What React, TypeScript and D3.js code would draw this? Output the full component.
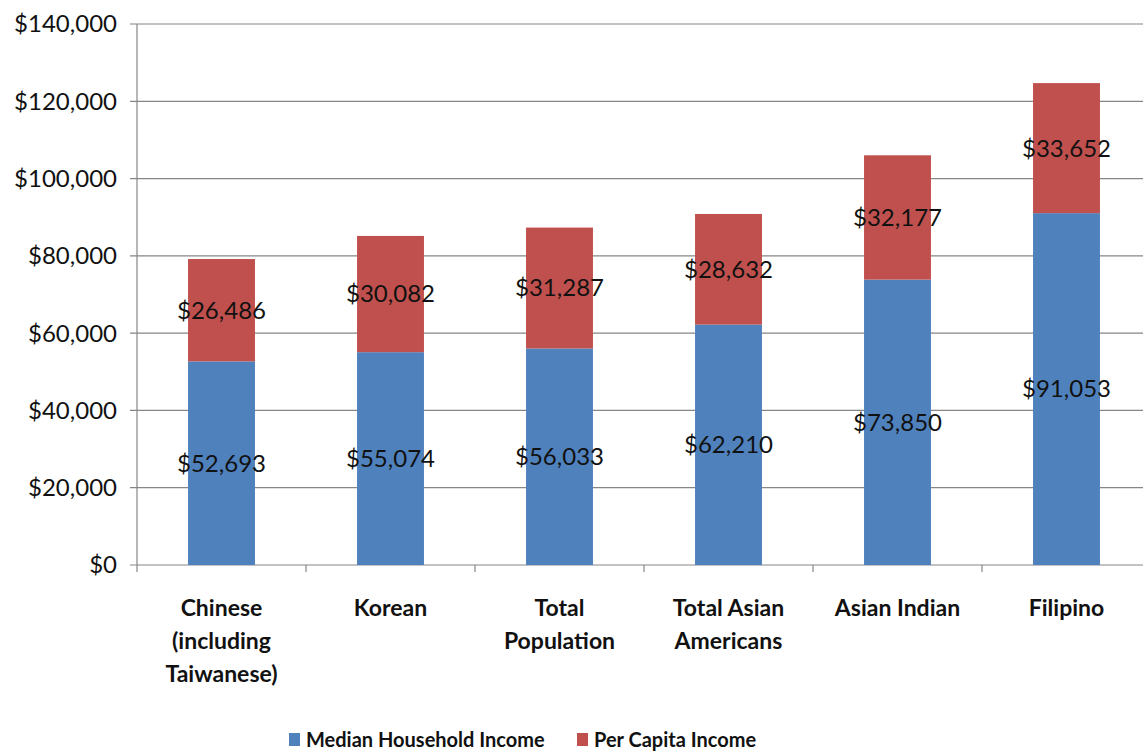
import React from "react";
import * as d3 from "d3";

const categories: string[][] = [
  ["Chinese", "(including", "Taiwanese)"],
  ["Korean"],
  ["Total", "Population"],
  ["Total Asian", "Americans"],
  ["Asian Indian"],
  ["Filipino"],
];
const medianHousehold = [52693, 55074, 56033, 62210, 73850, 91053];
const perCapita = [26486, 30082, 31287, 28632, 32177, 33652];
const yTicks = [0, 20000, 40000, 60000, 80000, 100000, 120000, 140000];
const seriesNames = ["Median Household Income", "Per Capita Income"];
const colors = ["#4F81BD", "#C0504D"];

const W = 1143;
const H = 752;
const left = 137;
const right = 1151;
const top = 24;
const bottom = 565;
const font = "Lato, 'Open Sans', sans-serif";

export default function App() {
  const idx = categories.map((_, i) => String(i));
  const x = d3.scaleBand().domain(idx).range([left, right]).paddingInner(0.604).paddingOuter(0.302);
  const step = (right - left) / categories.length;
  const y = d3.scaleLinear().domain([0, 140000]).range([bottom, top]);
  const fmt = (v: number) => "$" + d3.format(",")(v);
  const gray = "#868686";

  return (
    <svg width={W} height={H} style={{ position: "absolute", left: 0, top: 0, background: "#fff" }}>
      {yTicks.map((t) => (
        <g key={t}>
          <line x1={left - 7} x2={W} y1={y(t)} y2={y(t)} stroke={gray} strokeWidth={1.2} />
          <text x={117} y={y(t)} dy="0.35em" textAnchor="end" fontFamily={font} fontSize={24} fill="#111">
            {fmt(t)}
          </text>
        </g>
      ))}
      <line x1={left} x2={left} y1={top} y2={bottom} stroke={gray} strokeWidth={1.2} />
      {d3.range(categories.length + 1).map((i) => (
        <line key={i} x1={left + i * step} x2={left + i * step} y1={bottom} y2={bottom + 7} stroke={gray} strokeWidth={1.2} />
      ))}
      {categories.map((c, i) => {
        const bx = x(String(i))!;
        const bw = x.bandwidth();
        const m = medianHousehold[i];
        const p = perCapita[i];
        return (
          <g key={i}>
            <rect x={bx} width={bw} y={y(m)} height={y(0) - y(m)} fill={colors[0]} />
            <rect x={bx} width={bw} y={y(m + p)} height={y(m) - y(m + p)} fill={colors[1]} />
            <text x={bx + bw / 2} y={y(m / 2)} dy="0.35em" textAnchor="middle" fontFamily={font} fontSize={24} fill="#111">
              {fmt(m)}
            </text>
            <text x={bx + bw / 2} y={y(m + p / 2)} dy="0.35em" textAnchor="middle" fontFamily={font} fontSize={24} fill="#111">
              {fmt(p)}
            </text>
            {c.map((line, j) => (
              <text key={j} x={bx + bw / 2} y={616 + j * 33} textAnchor="middle" fontFamily={font} fontSize={23} fontWeight="bold" fill="#111">
                {line}
              </text>
            ))}
          </g>
        );
      })}
      <g>
        <rect x={289} y={733} width={11} height={13} fill={colors[0]} />
        <text x={306} y={747} fontFamily={font} fontSize={20} fontWeight="bold" fill="#111">{seriesNames[0]}</text>
        <rect x={577} y={733} width={11} height={13} fill={colors[1]} />
        <text x={594} y={747} fontFamily={font} fontSize={20} fontWeight="bold" fill="#111">{seriesNames[1]}</text>
      </g>
    </svg>
  );
}
